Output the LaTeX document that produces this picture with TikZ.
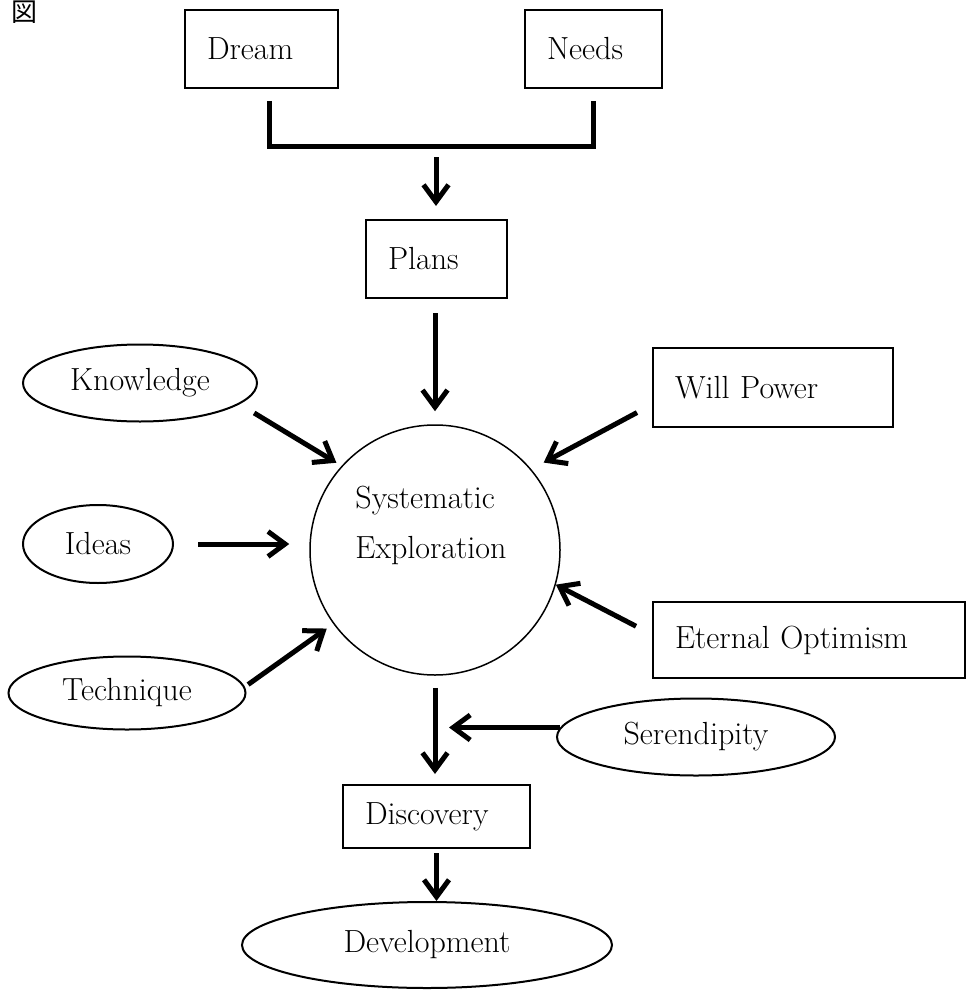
\documentclass[tikz,border=0pt]{standalone}
\usepackage{fontspec}
\usepackage{tikz}
\usetikzlibrary{shapes.geometric, arrows.meta}
\newfontfamily\cjk{Noto Sans CJK JP}

\begin{document}
\begin{tikzpicture}[x=0.5pt, y=-0.5pt, font=\fontsize{16}{19}\selectfont,
    box/.style={draw, line width=1pt, inner xsep=11pt, inner ysep=0pt, align=left},
    oval/.style={draw, ellipse, line width=1pt, inner sep=0pt},
    arr/.style={line width=2.5pt, -{Straight Barb[length=8.5pt, width=12.5pt]}},
    brk/.style={line width=2.5pt}]
    \useasboundingbox (0, 0) rectangle (967, 990);

    \node[font=\cjk\fontsize{13}{13}\selectfont] (zu) at (24, 12) {図};

    \node[box, text width=54.5pt, minimum height=39pt] (dream) at (261.5, 49) {Dream};
    \node[box, text width=46.5pt, minimum height=39pt] (needs) at (593.5, 49) {Needs};
    \node[box, text width=48.5pt, minimum height=39pt] (plans) at (436.5, 259) {Plans};
    \node[box, text width=98pt, minimum height=39.5pt] (will) at (773, 387.5) {Will Power};
    \node[box, text width=134pt, minimum height=38pt] (opt) at (809, 640) {Eternal Optimism};
    \node[box, text width=71.5pt, minimum height=31.5pt] (disc) at (436.5, 816.5) {Discovery};

    \node[draw, circle, line width=0.75pt, minimum size=125pt] (sys) at (435, 550) {};
    \node[align=left, font=\fontsize{16}{25}\selectfont] (systext) at (431, 525) {Systematic\\Exploration};

    \node[oval, minimum width=117pt, minimum height=38.5pt] (know) at (140, 383) {Knowledge};
    \node[oval, minimum width=75pt, minimum height=39pt] (ideas) at (98, 544) {Ideas};
    \node[oval, minimum width=118.5pt, minimum height=36.5pt] (tech) at (127, 693) {Technique};
    \node[oval, minimum width=139pt, minimum height=38.5pt] (ser) at (696, 737) {Serendipity};
    \node[oval, minimum width=185pt, minimum height=43pt] (dev) at (427, 945) {Development};

    \draw[brk] ([xshift=3.75pt, yshift=-6pt]dream.south) |- ([yshift=-28.5pt]needs.south) -- ([yshift=-6pt]needs.south);
    \coordinate (join) at (436, 145);
    \draw[arr, shorten <=6pt, shorten >=6.5pt] (join) -- (join |- plans.north);
    \draw[arr, shorten <=7pt, shorten >=6.5pt] (sys.north |- plans.south) -- (sys.north);

    \draw[arr, shorten <=8.5pt, shorten >=3pt] (know.-12) -- (sys.138);
    \draw[arr, shorten <=8.5pt, shorten >=7pt] (will.188) -- (sys.40);
    \draw[arr, shorten <=12pt, shorten >=10pt] (ideas.east) -- (ideas.east -| sys.west);
    \draw[arr, shorten <=2pt, shorten >=4pt] (tech.3) -- (sys.216);
    \draw[arr, shorten <=9pt] (opt.178) -- (sys.-16);

    \draw[arr, shorten <=6pt, shorten >=5pt] (sys.south) -- (sys.south |- disc.north);
    \draw[arr, shorten >=7pt] (ser.176) -- (ser.176 -| sys.south);
    \draw[arr, shorten <=2pt] (disc.south) -- (disc.south |- dev.north);
\end{tikzpicture}
\end{document}
